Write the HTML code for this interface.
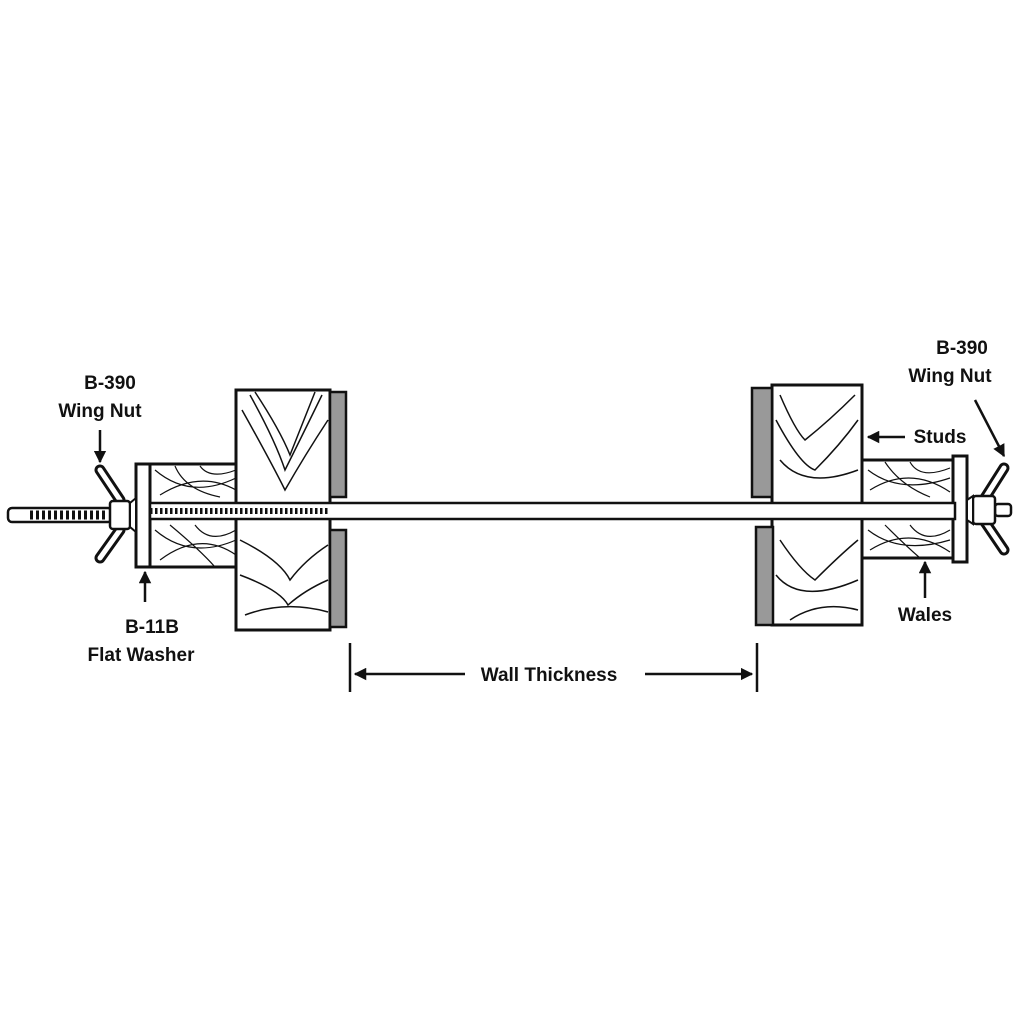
<!DOCTYPE html>
<html><head><meta charset="utf-8"><style>
html,body{margin:0;padding:0;background:#fff;}
svg{display:block}
text{font-family:"Liberation Sans",sans-serif;font-size:19px;font-weight:bold;fill:#111;text-anchor:middle}
</style></head><body>
<svg width="1024" height="1024" viewBox="0 0 1024 1024" xmlns="http://www.w3.org/2000/svg">
<defs>
<marker id="ah" viewBox="0 0 10 10" refX="9" refY="5" markerWidth="5" markerHeight="5" orient="auto"><path d="M0,0 L10,5 L0,10 z" fill="#111"/></marker>
</defs>
<g stroke="#111" fill="none">
<!-- left stud -->
<rect x="236" y="390" width="94" height="240" fill="#fff" stroke-width="3"/>
<g stroke-width="1.5">
<path d="M250,395 Q275,440 285,470 Q300,440 322,395"/>
<path d="M242,410 Q270,460 285,490 Q305,455 328,420"/>
<path d="M255,392 Q280,430 290,455 Q300,430 315,392"/>
<path d="M240,540 Q280,560 290,580 Q305,560 328,545"/>
<path d="M240,575 Q280,590 288,605 Q305,590 328,580"/>
<path d="M245,615 Q285,600 328,612"/>
</g>
<rect x="330" y="392" width="16" height="105" fill="#999" stroke-width="2.5"/>
<rect x="330" y="530" width="16" height="97" fill="#999" stroke-width="2.5"/>
<!-- right stud -->
<rect x="772" y="385" width="90" height="240" fill="#fff" stroke-width="3"/>
<g stroke-width="1.5">
<path d="M780,395 Q795,430 805,440 Q830,420 855,395"/>
<path d="M776,420 Q800,465 815,470 Q840,445 858,420"/>
<path d="M780,460 Q805,490 858,470"/>
<path d="M780,540 Q800,570 815,580 Q840,555 858,540"/>
<path d="M776,575 Q800,605 858,580"/>
<path d="M790,620 Q820,600 858,610"/>
</g>
<rect x="752" y="388" width="20" height="109" fill="#999" stroke-width="2.5"/>
<rect x="756" y="527" width="17" height="98" fill="#999" stroke-width="2.5"/>
<!-- left wale -->
<rect x="136" y="464" width="100" height="103" fill="#fff" stroke-width="3"/>
<g stroke-width="1.2">
<path d="M155,470 Q190,500 236,478 M160,495 Q200,470 236,490 M175,466 Q185,490 220,497 M200,466 Q210,480 236,470"/>
<path d="M155,530 Q190,560 236,540 M160,560 Q200,530 236,555 M170,525 Q200,550 215,567 M195,525 Q210,545 236,530"/>
</g>
<rect x="136" y="464" width="14" height="103" fill="#fff" stroke-width="3"/>
<!-- right wale -->
<rect x="862" y="460" width="93" height="98" fill="#fff" stroke-width="3"/>
<g stroke-width="1.2">
<path d="M868,470 Q900,495 950,478 M870,490 Q910,465 950,492 M885,462 Q900,485 930,497 M910,462 Q920,480 950,468"/>
<path d="M868,530 Q900,555 950,540 M870,550 Q910,525 950,552 M885,525 Q905,545 920,558 M910,525 Q925,545 950,530"/>
</g>
<rect x="953" y="456" width="14" height="106" fill="#fff" stroke-width="3"/>
<!-- rod -->
<rect x="150" y="503" width="805" height="16" fill="#fff" stroke-width="2.5"/>
<line x1="150" y1="511" x2="330" y2="511" stroke-width="6" stroke-dasharray="2.5,2.5"/>
<rect x="8" y="508" width="104" height="14" rx="4" fill="#fff" stroke-width="2.5"/>
<line x1="30" y1="515" x2="108" y2="515" stroke-width="9" stroke-dasharray="3,3"/>
<!-- left wing nut -->
<g stroke-linecap="round">
<path d="M120,500 L100,470" stroke-width="11"/>
<path d="M120,500 L100,470" stroke="#fff" stroke-width="5"/>
<path d="M120,530 L100,558" stroke-width="11"/>
<path d="M120,530 L100,558" stroke="#fff" stroke-width="5"/>
</g>
<rect x="110" y="501" width="20" height="28" rx="3" fill="#fff" stroke-width="2.5"/>
<path d="M130,503 L136,498 L136,532 L130,527 z" fill="#fff" stroke-width="2"/>
<!-- right wing nut -->
<rect x="995" y="504" width="16" height="12" rx="3" fill="#fff" stroke-width="2.5"/>
<g stroke-linecap="round">
<path d="M985,498 L1004,468" stroke-width="11"/>
<path d="M985,498 L1004,468" stroke="#fff" stroke-width="5"/>
<path d="M985,522 L1004,550" stroke-width="11"/>
<path d="M985,522 L1004,550" stroke="#fff" stroke-width="5"/>
</g>
<rect x="973" y="496" width="22" height="28" rx="3" fill="#fff" stroke-width="2.5"/>
<path d="M967,500 L973,496 L973,524 L967,520 z" fill="#fff" stroke-width="2"/>
<!-- arrows -->
<g stroke-width="2.5">
<line x1="100" y1="430" x2="100" y2="462" marker-end="url(#ah)"/>
<line x1="145" y1="602" x2="145" y2="572" marker-end="url(#ah)"/>
<line x1="975" y1="400" x2="1004" y2="456" marker-end="url(#ah)"/>
<line x1="905" y1="437" x2="868" y2="437" marker-end="url(#ah)"/>
<line x1="925" y1="598" x2="925" y2="562" marker-end="url(#ah)"/>
<line x1="350" y1="643" x2="350" y2="692"/>
<line x1="757" y1="643" x2="757" y2="692"/>
<line x1="465" y1="674" x2="355" y2="674" marker-end="url(#ah)"/>
<line x1="645" y1="674" x2="752" y2="674" marker-end="url(#ah)"/>
</g>
</g>
<text x="110" y="389">B-390</text>
<text x="100" y="417">Wing Nut</text>
<text x="152" y="633">B-11B</text>
<text x="141" y="661">Flat Washer</text>
<text x="962" y="354">B-390</text>
<text x="950" y="382">Wing Nut</text>
<text x="940" y="443">Studs</text>
<text x="925" y="621">Wales</text>
<text x="549" y="681">Wall Thickness</text>
</svg>
</body></html>
